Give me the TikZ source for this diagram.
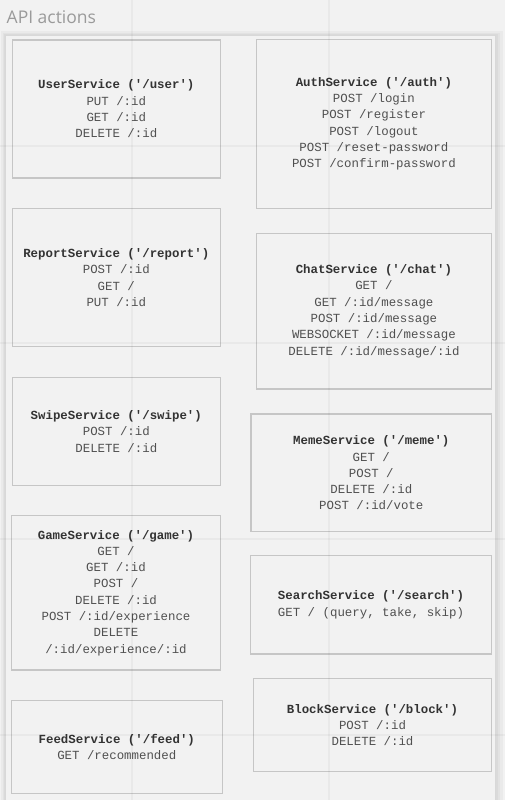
\documentclass[tikz,border=0pt]{standalone}
\usepackage{fontspec}
\setmainfont{Liberation Mono}[Ligatures=TeXOff]
\newfontfamily\titlefont{Open Sans}
\definecolor{bg}{HTML}{F2F2F2}
\definecolor{boxline}{HTML}{C6C6C6}
\definecolor{contline}{HTML}{D8D8D8}
\definecolor{headtxt}{HTML}{333333}
\definecolor{bodytxt}{HTML}{505050}
\definecolor{titlegray}{HTML}{9A9A9A}
\tikzset{
  svc/.style={draw=boxline, line width=1.2bp, align=center, inner sep=0pt,
    font=\fontsize{12.4bp}{16.3bp}\selectfont, text=bodytxt},
  gridln/.style={black, opacity=0.035, line width=1.2bp},
}
\newcommand{\hd}[1]{{\bfseries\color{headtxt}#1}}
\begin{document}
\begin{tikzpicture}[x=1bp,y=-1bp]
\fill[bg] (0,0) rectangle (505,800);
\useasboundingbox (0,0) rectangle (505,800);
% container shadow
\fill[black, opacity=0.03] (1,31) rectangle (503,805);
\fill[black, opacity=0.03] (3,33) rectangle (500,805);
\fill[black, opacity=0.03] (4,34) rectangle (498,805);
\fill[bg, draw=contline, line width=1bp] (5.5,35.5) rectangle (495,806);
% title
\node[anchor=base west, inner sep=0pt, font=\titlefont\fontsize{17.5bp}{20bp}\selectfont, text=titlegray] (title) at (6.5,23.5) {API actions};
% boxes
\node[svc, minimum width=208bp, minimum height=138bp] (user) at (116.3,109)
  {\hd{UserService ('/user')}\\PUT /:id\\GET /:id\\DELETE /:id};
\node[svc, minimum width=235.5bp, minimum height=169bp] (auth) at (373.9,123.8)
  {\hd{AuthService ('/auth')}\\POST /login\\POST /register\\POST /logout\\POST /reset-password\\POST /confirm-password};
\node[svc, minimum width=208bp, minimum height=138.4bp] (report) at (116.3,277.5)
  {\hd{ReportService ('/report')}\\POST /:id\\GET /\\PUT /:id};
\node[svc, minimum width=208bp, minimum height=108.4bp] (swipe) at (116.3,431.5)
  {\hd{SwipeService ('/swipe')}\\POST /:id\\DELETE /:id};
\node[svc, minimum width=235.5bp, minimum height=155.7bp] (chat) at (373.9,311.2)
  {\hd{ChatService ('/chat')}\\GET /\\GET /:id/message\\POST /:id/message\\WEBSOCKET /:id/message\\DELETE /:id/message/:id};
\node[svc, minimum width=240.7bp, minimum height=117.7bp] (meme) at (371.3,472.9)
  {\hd{MemeService ('/meme')}\\GET /\\POST /\\DELETE /:id\\POST /:id/vote};
\node[svc, minimum width=209.4bp, minimum height=154.3bp] (game) at (116,592.9)
  {\hd{GameService ('/game')}\\GET /\\GET /:id\\POST /\\DELETE /:id\\POST /:id/experience\\DELETE\\/:id/experience/:id};
\node[svc, minimum width=211bp, minimum height=92.6bp] (feed) at (116.8,747)
  {\hd{FeedService ('/feed')}\\GET /recommended};
\node[svc, minimum width=241.4bp, minimum height=98.3bp] (search) at (371,604.9)
  {\hd{SearchService ('/search')}\\GET / (query, take, skip)};
\node[svc, minimum width=238.4bp, minimum height=93.4bp] (block) at (372.5,725)
  {\hd{BlockService ('/block')}\\POST /:id\\DELETE /:id};
% faint background grid
\foreach \gx in {132,329} \draw[gridln] (\gx,0) -- (\gx,800);
\foreach \gy in {146,343,539,735} \draw[gridln] (0,\gy) -- (505,\gy);
\end{tikzpicture}
\end{document}
